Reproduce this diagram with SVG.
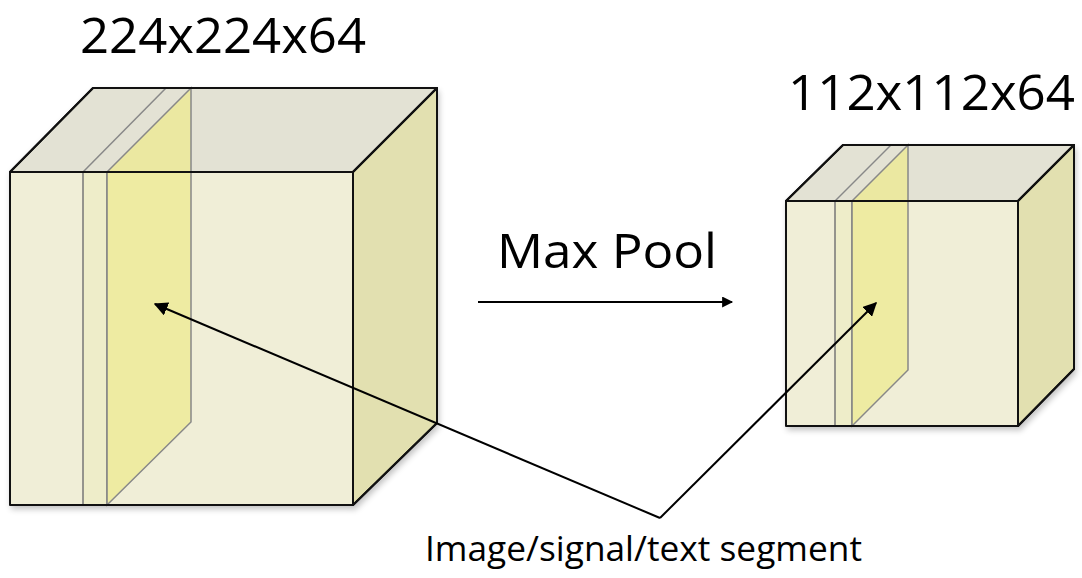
<svg xmlns="http://www.w3.org/2000/svg" width="1082" height="578" viewBox="0 0 1082 578">
<style>
.front{fill:#f0eed7;stroke:none}
.top{fill:#e3e2d4;stroke:#111;stroke-width:2;stroke-linejoin:round}
.right{fill:#e2e0b0;stroke:#111;stroke-width:2;stroke-linejoin:round}
.edge{fill:none;stroke:#111;stroke-width:2;stroke-linejoin:round}
.strip{fill:#eeedc9;stroke:#777;stroke-width:1.5}
.slice{fill:#eeea90;fill-opacity:0.75;stroke:#888;stroke-width:1.5}
.thin{fill:none;stroke:#888;stroke-width:1.5}
.lbl{font-family:"Open Sans","Noto Sans",sans-serif;fill:#000}
.conn{stroke:#000;stroke-width:2;fill:none}
</style>
<defs>
<marker id="ah" viewBox="0 0 10 10" refX="9" refY="5" markerWidth="12" markerHeight="11" markerUnits="userSpaceOnUse" orient="auto">
<path d="M0,0 L10,5 L0,10 z" fill="#000"/>
</marker>
<marker id="ah2" viewBox="0 0 10 10" refX="9" refY="5" markerWidth="14" markerHeight="14" markerUnits="userSpaceOnUse" orient="auto">
<path d="M0,0 L10,5 L0,10 z" fill="#000"/>
</marker>
<filter id="sh" x="-10%" y="-10%" width="130%" height="130%">
<feGaussianBlur in="SourceAlpha" stdDeviation="3"/>
<feOffset dx="1" dy="4"/>
<feComponentTransfer><feFuncA type="linear" slope="0.25"/></feComponentTransfer>
<feMerge><feMergeNode/><feMergeNode in="SourceGraphic"/></feMerge>
</filter>
</defs>

<g id="cube-large">
<g filter="url(#sh)">
<rect class="front" x="10" y="172" width="343" height="333"/>
<polygon class="top" points="10,172 93,88 437,88 353,172"/>
<polygon class="right" points="353,172 437,88 437,423 353,505"/>
</g>
<rect class="strip" x="83" y="172" width="24" height="333"/>
<line class="thin" x1="83" y1="172" x2="166" y2="88"/>
<polygon class="slice" points="107,172 191,88 191,422 107,505"/>
<rect class="edge" x="10" y="172" width="343" height="333"/>
<polyline class="edge" points="10,172 93,88 437,88 353,172"/>
<polyline class="edge" points="437,88 437,423 353,505"/>
</g>

<g id="cube-small">
<g filter="url(#sh)">
<rect class="front" x="786" y="201" width="232" height="225"/>
<polygon class="top" points="786,201 843,145 1074,145 1018,201"/>
<polygon class="right" points="1018,201 1074,145 1074,369 1018,426"/>
</g>
<rect class="strip" x="835" y="201" width="17" height="225"/>
<line class="thin" x1="835" y1="201" x2="891" y2="145"/>
<polygon class="slice" points="852,201 908,145 908,370 852,426"/>
<rect class="edge" x="786" y="201" width="232" height="225"/>
<polyline class="edge" points="786,201 843,145 1074,145 1018,201"/>
<polyline class="edge" points="1074,145 1074,369 1018,426"/>
</g>

<g id="labels">
<text class="lbl" x="80" y="53" font-size="49" textLength="286" lengthAdjust="spacingAndGlyphs">224x224x64</text>
<text class="lbl" x="788" y="110" font-size="49" textLength="287" lengthAdjust="spacingAndGlyphs">112x112x64</text>
<text class="lbl" x="497" y="268" font-size="48" textLength="220" lengthAdjust="spacingAndGlyphs">Max Pool</text>
<text class="lbl" x="425" y="561" font-size="35" textLength="437" lengthAdjust="spacingAndGlyphs">Image/signal/text segment</text>
</g>

<g id="connectors">
<line class="conn" x1="478" y1="302" x2="732" y2="302" marker-end="url(#ah)"/>
<line class="conn" x1="660" y1="518" x2="155" y2="304" marker-end="url(#ah2)"/>
<line class="conn" x1="660" y1="518" x2="876" y2="303" marker-end="url(#ah2)"/>
</g>
</svg>
